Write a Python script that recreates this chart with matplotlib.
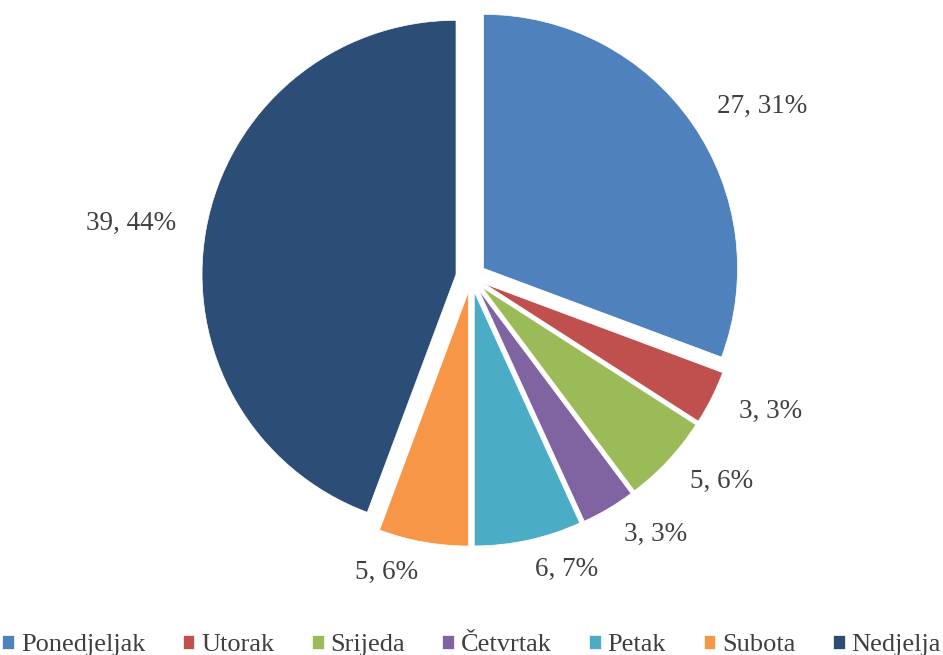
import matplotlib.pyplot as plt

dani = ['Ponedjeljak', 'Utorak', 'Srijeda', 'Četvrtak', 'Petak', 'Subota', 'Nedjelja']
vrijednosti = [27, 3, 5, 3, 6, 5, 39]
postoci = [31, 3, 6, 3, 7, 6, 44]
boje = ['#4F81BD', '#C0504D', '#9BBB59', '#8064A2', '#4BACC6', '#F79646', '#2C4D75']

oznake = [f'{v}, {p}%' for v, p in zip(vrijednosti, postoci)]

plt.rcParams['font.family'] = ['Liberation Serif', 'DejaVu Serif']

fig = plt.figure(figsize=(9.43, 6.55), dpi=100)
ax = fig.add_axes([0.2032, 0.1505, 0.5926, 0.8531])

wedges, texts = ax.pie(vrijednosti, labels=oznake, colors=boje, startangle=90,
                       counterclock=False, explode=[0.06] * len(vrijednosti),
                       labeldistance=1.12,
                       wedgeprops=dict(edgecolor='white', linewidth=0.5),
                       textprops=dict(fontsize=19.5, color='#404040'))
ax.set_xlim(-1.1, 1.1)
ax.set_ylim(-1.1, 1.1)

leg = fig.legend(wedges, dani, loc='lower center', ncol=7, frameon=False,
                 bbox_to_anchor=(0.5, -0.038), fontsize=19, handlelength=0.45,
                 handleheight=0.45, handletextpad=0.25, columnspacing=1.42)
for t in leg.get_texts():
    t.set_color('#404040')

plt.savefig('out.png', dpi=100)
